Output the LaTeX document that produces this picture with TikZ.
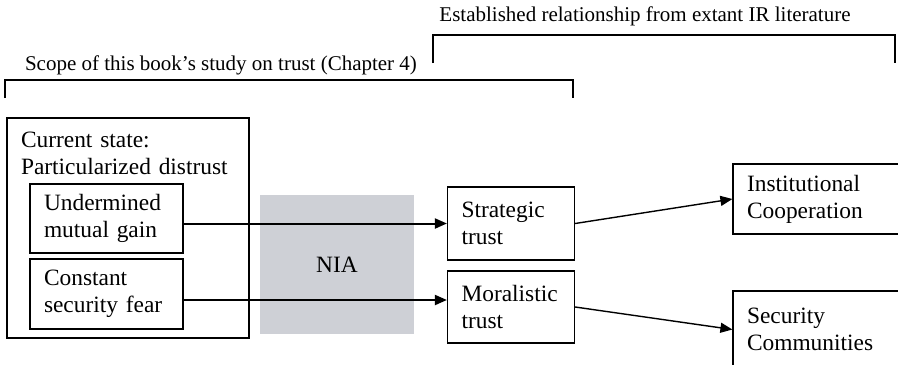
\documentclass[tikz,border=0pt]{standalone}
\usepackage{fontspec}
\setmainfont{Liberation Serif}
\usetikzlibrary{arrows.meta,positioning}
\definecolor{niagray}{RGB}{206,208,214}

\begin{document}
\begin{tikzpicture}[x=0.5pt,y=-0.5pt,>={Triangle[length=6pt,width=5pt]},
line width=0.6pt]
\tikzstyle{box}=[draw,align=left,inner xsep=7pt,inner ysep=0pt,font=\fontsize{11.7}{13.5}\selectfont]
\tikzstyle{head}=[inner sep=0pt,font=\fontsize{10.5}{12.6}\selectfont]

\useasboundingbox (0,0) rectangle (898,364);
\clip (0,0) rectangle (898,364);

% brackets on top
\node[head] (estlbl) at (645,16) {Established relationship from extant IR literature};
\coordinate (estL) at (433,63);
\coordinate (estR) at (895,63);
\draw (estL) -- ++(0,-28) -| (estR);

\node[head] (scplbl) at (221,65) {Scope of this book’s study on trust (Chapter 4)};
\coordinate (scpL) at (5,98);
\coordinate (scpR) at (573,98);
\draw (scpL) -- ++(0,-18) -| (scpR);

% current state
\node[box,minimum width=121pt,minimum height=110pt] (cur) at (128,228) {};
\node[box,draw=none,inner ysep=7pt,text width=107pt,anchor=north west] (curlbl) at (cur.north west) {Current state:\\Particularized distrust};
\node[box,minimum width=76.5pt,minimum height=34.5pt,text width=62.5pt] (ug) at (106.5,218.5) {Undermined\\mutual gain};
\node[box,minimum width=76.5pt,minimum height=35pt,text width=62.5pt] (csf) at (106.5,294) {Constant\\security fear};

\node[fill=niagray,minimum width=77pt,minimum height=69.5pt,font=\fontsize{11.7}{13.5}\selectfont] (nia) at (337,264.5) {NIA};

% trust
\node[box,minimum width=63pt,minimum height=36.5pt,text width=49.5pt] (st) at (511,223.5) {Strategic\\trust};
\node[box,minimum width=63pt,minimum height=36pt,text width=49.5pt] (mt) at (511,307) {Moralistic\\trust};

% outcomes
\node[box,minimum width=86pt,minimum height=35pt,text width=72pt] (ic) at (819,199) {Institutional\\Cooperation};
\node[box,minimum width=86pt,minimum height=38.5pt,text width=72pt] (sc) at (819,329.5) {Security\\Communities};

\draw[->,line width=1pt] (st.west -| ug.east) -- (st.west);
\draw[->,line width=1pt] ([yshift=-3pt]csf.east) -- ([yshift=-3pt]csf.east -| mt.west);
\draw[->,line width=0.7pt] (st.east) -- (ic.west);
\draw[->,line width=0.7pt] (mt.east) -- (sc.west);
\end{tikzpicture}
\end{document}
